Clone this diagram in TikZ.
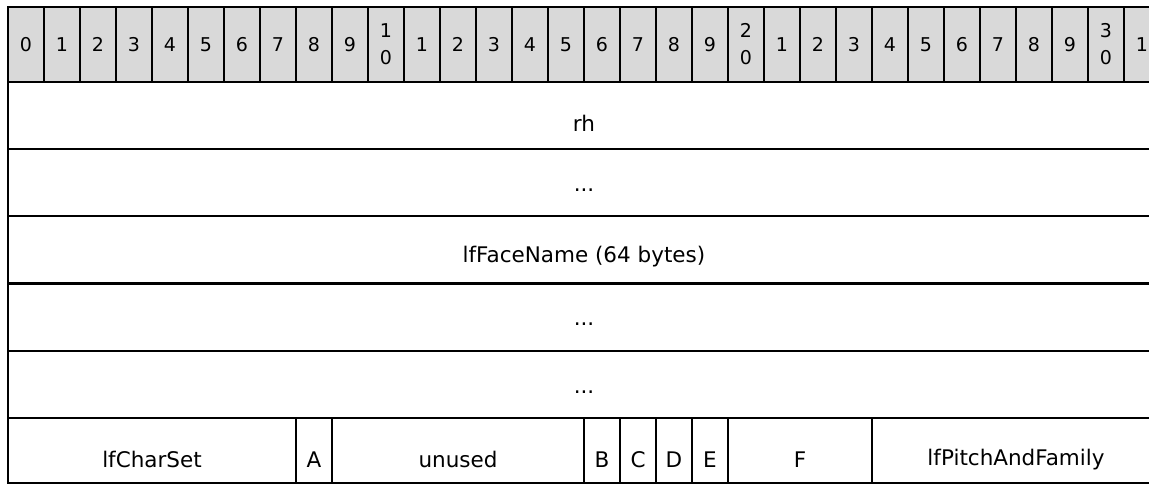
\documentclass[tikz,border=0pt]{standalone}
\usepackage{fontspec}
\setmainfont{DejaVu Sans}
\definecolor{hdr}{RGB}{217,217,217}
\newcommand{\hfont}{\fontsize{19}{27}\selectfont}
\newcommand{\pfont}{\fontsize{21.5}{26}\selectfont}
\begin{document}
\begin{tikzpicture}[x=1pt,y=-1pt,
  box/.style={draw=black, line width=2pt, inner sep=0pt, outer sep=0pt},
  hcell/.style={box, fill=hdr, minimum width=36pt, minimum height=75pt, align=center, font=\hfont},
  rowcell/.style={box, minimum width=1152pt, minimum height=67pt},
  fcell/.style={box, minimum width=#1*36pt, minimum height=65pt},
  lbl/.style={font=\pfont, inner sep=0pt}
]
\useasboundingbox (0,0) rectangle (1149,485);
\clip (0,0) rectangle (1149,485);
% header
\foreach \k/\t in {0/0,1/1,2/2,3/3,4/4,5/5,6/6,7/7,8/8,9/9,10/{1\\0},
  11/1,12/2,13/3,14/4,15/5,16/6,17/7,18/8,19/9,20/{2\\0},
  21/1,22/2,23/3,24/4,25/5,26/6,27/7,28/8,29/9,30/{3\\0},31/1}
  \node[hcell] (h\k) at ({26+36*\k},44.5) {\t};
% full-width rows
\node[rowcell] (r1) at (584,115.5) {};
\node[lbl] (t1) at ([yshift=-7.5pt]r1.center) {rh};
\node[rowcell] (r2) at (584,182.5) {};
\node[lbl] (t2) at ([yshift=-7.5pt]r2.center) {...};
\node[rowcell] (r3) at (584,249.5) {};
\node[lbl] (t3) at ([yshift=-7.5pt]r3.center) {lfFaceName (64 bytes)};
\node[rowcell] (r4) at (584,317) {};
\node[lbl] (t4) at ([yshift=-7.5pt]r4.center) {...};
\node[rowcell] (r5) at (584,384.5) {};
\node[lbl] (t5) at ([yshift=-7.5pt]r5.center) {...};
% bottom fields
\foreach \s/\w/\t [count=\i] in {0/8/lfCharSet,8/1/A,9/7/unused,16/1/B,17/1/C,18/1/D,19/1/E,20/4/F,24/8/lfPitchAndFamily}{
  \node[fcell=\w] (f\i) at ({8+36*\s+18*\w},450.5) {};
  \node[lbl] (ft\i) at ([yshift=-9pt]f\i.center) {\t};
}
\end{tikzpicture}
\end{document}
